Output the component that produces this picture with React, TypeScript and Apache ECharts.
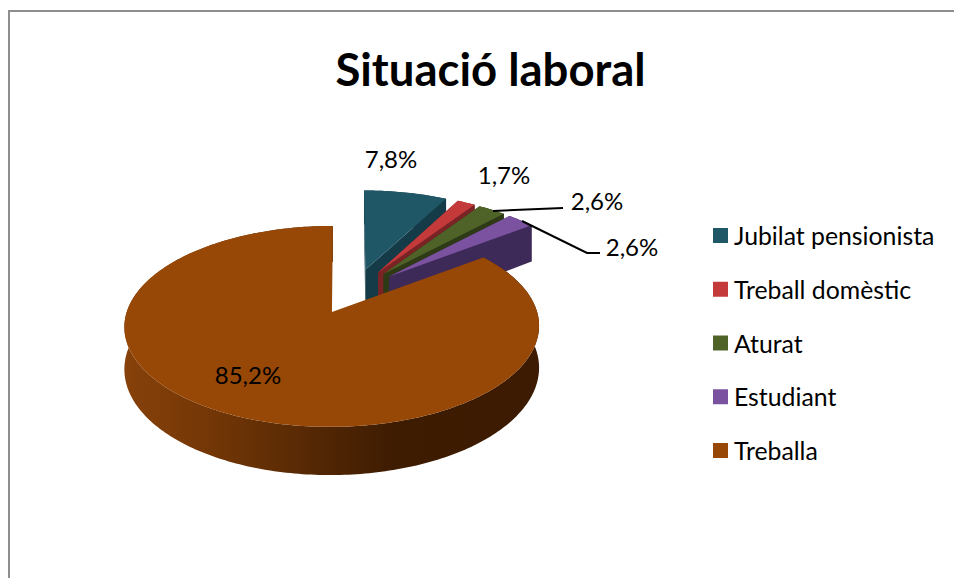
import React, { useEffect, useRef } from "react";
import * as echarts from "echarts";

const categories = ["Jubilat pensionista", "Treball domèstic", "Aturat", "Estudiant", "Treballa"];
const values = [7.8, 1.7, 2.6, 2.6, 85.2];
const titleText = "Situació laboral";

const topColors = ["#1f5767", "#c4393a", "#4f6228", "#7b52a0", "#974706"];
const wallColors = ["#143b47", "#7a2324", "#2e3a16", "#3e2a58", "#6a3205"];
const FONT = "Lato, Carlito, sans-serif";

// projection of the tilted disc: the large slice and the small far slices are fitted separately
const Y0 = 291.4, K = 0.14, DEPTH = 40, EXPLODE = 0.24;
const mainView = { x0: 353.5, sx: 199, sy: 92.55, shear: 1.8 };
const farView = { x0: 354, sx: 201, sy: 96, shear: 0 };
type View = typeof mainView;
const project = (view: View, u: number, v: number): [number, number] => {
  const w = 1 + K * v;
  return [view.x0 + (view.sx * u) / w - view.shear * v, Y0 - (view.sy * v) / w];
};
const dropped = (view: View, u: number, v: number): [number, number] => {
  const [x, y] = project(view, u, v);
  return [x, y + DEPTH / (1 + K * v)];
};

// label anchors (centre of each text), one per category
const labelAnchors: [number, number][] = [[391, 158], [504, 174], [597, 200], [632, 246], [248, 374]];
const leaders: ([number, number][] | null)[] = [
  null,
  null,
  [[493, 211], [563, 208]],
  [[522, 221], [587, 253], [600, 253]],
  null,
];

const formatPct = (v: number) => v.toFixed(1).replace(".", ",") + "%";

const total = values.reduce((a, b) => a + b, 0);
const starts = values.map((_, i) => values.slice(0, i).reduce((a, b) => a + b, 0));

function makeRenderItem(index: number) {
  return (_params: any, api: any) => {
    const value = api.value(0);
    const a0 = (starts[index] / total) * Math.PI * 2;
    const a1 = a0 + (value / total) * Math.PI * 2;
    const mid = (a0 + a1) / 2;
    const cu = EXPLODE * Math.sin(mid);
    const cv = EXPLODE * Math.cos(mid);
    const steps = Math.max(4, Math.ceil(((a1 - a0) * 180) / Math.PI));
    const rim: [number, number][] = [];
    for (let s = 0; s <= steps; s++) {
      const a = a0 + ((a1 - a0) * s) / steps;
      rim.push([cu + Math.sin(a), cv + Math.cos(a)]);
    }
    const isMain = index === values.length - 1;
    const view = isMain ? mainView : farView;
    const topRim = rim.map(([u, v]) => project(view, u, v));
    const lowRim = rim.map(([u, v]) => dropped(view, u, v));
    const apexTop = project(view, cu, cv);
    const apexLow = dropped(view, cu, cv);
    const last = rim.length - 1;
    const wall = wallColors[index];
    const rimFill: any = isMain
      ? new echarts.graphic.LinearGradient(0, 0, 1, 0, [
          { offset: 0, color: "#87410a" },
          { offset: 0.2, color: "#743706" },
          { offset: 0.45, color: "#552804" },
          { offset: 0.65, color: "#3e1c02" },
          { offset: 1, color: "#3c1b02" },
        ])
      : wall;
    const children: any[] = [];
    if (!isMain) {
      children.push(
        { type: "polygon", shape: { points: [apexTop, topRim[0], lowRim[0], apexLow] }, style: { fill: wall } },
        { type: "polygon", shape: { points: [apexTop, topRim[last], lowRim[last], apexLow] }, style: { fill: wall } },
      );
    }
    children.push(
      { type: "polygon", shape: { points: [...topRim, ...[...lowRim].reverse()] }, style: { fill: rimFill } },
      { type: "polygon", shape: { points: [apexTop, ...topRim] }, style: { fill: topColors[index] } },
    );
    const leader = leaders[index];
    if (leader) {
      children.push({
        type: "polyline",
        shape: { points: leader },
        style: { stroke: "#000", lineWidth: 2, fill: "none" },
        z2: 50,
      });
    }
    const [lx, ly] = labelAnchors[index];
    children.push({
      type: "text",
      x: lx,
      y: ly,
      z2: 60,
      style: {
        text: formatPct(value),
        fill: "#000",
        font: `24px ${FONT}`,
        align: "center",
        verticalAlign: "middle",
      },
    });
    return { type: "group", children };
  };
}

export default function App() {
  const ref = useRef<HTMLDivElement>(null);
  useEffect(() => {
    const chart = echarts.init(ref.current!, undefined, { renderer: "svg" });
    chart.setOption({
      animation: false,
      backgroundColor: "#fff",
      title: {
        text: titleText,
        left: 485.5,
        top: 40,
        textAlign: "center",
        textStyle: { fontFamily: FONT, fontSize: 45.5, fontWeight: "bold", color: "#000" },
      },
      legend: {
        orient: "vertical",
        left: 708,
        top: 214,
        icon: "rect",
        itemWidth: 15,
        itemHeight: 15,
        itemGap: 20.75,
        selectedMode: false,
        data: categories,
        textStyle: {
          fontFamily: FONT,
          fontSize: 24.8,
          color: "#000",
          padding: [5, 0, 0, 1],
          lineHeight: 28,
        },
      },
      graphic: [
        { type: "rect", shape: { x: 8, y: 10, width: 946, height: 2 }, style: { fill: "#8e8e8e" } },
        { type: "rect", shape: { x: 8, y: 10, width: 2, height: 568 }, style: { fill: "#8e8e8e" } },
      ],
      series: categories.map((name, i) => ({
        type: "custom",
        name,
        coordinateSystem: "none",
        itemStyle: { color: topColors[i] },
        data: [[values[i]]],
        renderItem: makeRenderItem(i),
        silent: true,
        z: 2 + i,
      })),
    });
    return () => chart.dispose();
  }, []);
  return <div ref={ref} style={{ position: "absolute", left: 0, top: 0, width: 954, height: 578 }} />;
}
